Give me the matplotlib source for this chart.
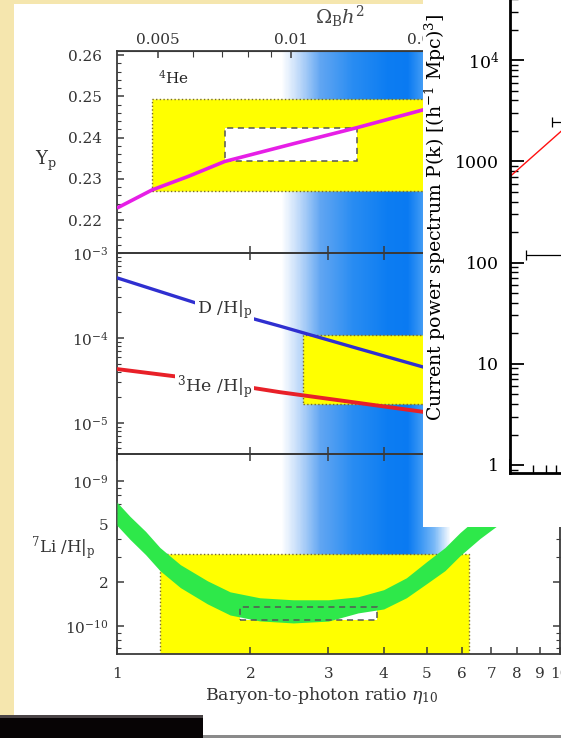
import numpy as np
import matplotlib.pyplot as plt
from matplotlib.patches import Rectangle
from matplotlib.colors import LinearSegmentedColormap
from matplotlib.ticker import FixedLocator, NullFormatter, NullLocator, LogLocator

plt.rcParams['font.family'] = ['DejaVu Serif']
plt.rcParams['mathtext.fontset'] = 'dejavuserif'

W, H = 561, 738

# --- BBN predictions vs baryon-to-photon ratio eta_10 ---
eta_yp = [1.0, 1.2, 1.45, 1.75, 2.5, 3.48, 4.9, 7.0, 10.0]
yp = [0.2229, 0.2273, 0.2306, 0.2342, 0.2385, 0.2424, 0.2467, 0.2505, 0.2540]

eta_dh = [1.0, 1.5, 2.33, 3.5, 4.9, 7.0, 10.0]
dh = [5.1e-4, 2.6e-4, 1.38e-4, 7.5e-5, 4.56e-5, 2.62e-5, 1.5e-5]
he3 = [4.3e-5, 3.3e-5, 2.3e-5, 1.72e-5, 1.35e-5, 1.05e-5, 8.3e-6]

eta_li = [1.0, 1.07, 1.16, 1.25, 1.39, 1.6, 1.8, 2.1, 2.5, 3.0, 3.5, 4.0, 4.5,
          5.0, 5.5, 5.95, 6.6, 7.7, 10.0]
li_hi = [7.15e-10, 5.71e-10, 4.50e-10, 3.48e-10, 2.65e-10, 2.05e-10, 1.72e-10,
         1.565e-10, 1.516e-10, 1.516e-10, 1.59e-10, 1.78e-10, 2.15e-10,
         2.78e-10, 3.48e-10, 4.42e-10, 5.81e-10, 8.25e-10, 1.54e-9]
li_lo = [4.95e-10, 3.96e-10, 3.11e-10, 2.41e-10, 1.84e-10, 1.42e-10, 1.19e-10,
         1.083e-10, 1.049e-10, 1.08e-10, 1.23e-10, 1.31e-10, 1.565e-10,
         1.96e-10, 2.41e-10, 3.06e-10, 4.02e-10, 5.71e-10, 1.066e-9]

# observed abundance boxes: (eta_lo, eta_hi, y_lo, y_hi)
yp_box = (1.2, 6.3, 0.2270, 0.2494)
yp_inner = (1.753, 3.48, 0.2342, 0.2424)
dh_box = (2.63, 6.3, 1.68e-5, 1.08e-4)
li_box = (1.25, 6.23, 6.0e-11, 3.16e-10)
li_inner = (1.896, 3.86, 1.10e-10, 1.355e-10)

band_eta = (2.33, 5.65)

omega_factor = 247.0
omega_ticks = [0.005, 0.01, 0.02]
omega_labels = ['0.005', '0.01', '0.02']
omega_minor = [0.006, 0.007, 0.008, 0.009, 0.03, 0.04]

# --- inset: current power spectrum ---
k_line = [0.001, 0.0047, 0.01]
p_line = [708, 1983, 3260]
k_pts = [0.012, 0.012]
p_pts = [2430, 120]
k_left = [0.00357, 0.00162]
p_ticks = [1, 10, 100, 1000, 1e4]
p_labels = ['1', '10', '100', '1000', r'$10^4$']


def box(x0, y0, x1, y1):
    return [x0 / W, 1 - y1 / H, (x1 - x0) / W, (y1 - y0) / H]


def fpt(x, y):
    return x / W, 1 - y / H


parch = '#f5e6ae'
fig = plt.figure(figsize=(W / 100, H / 100), dpi=100, facecolor=parch)

fig.add_artist(Rectangle((14 / W, 1 - 735 / H), (W - 14) / W, 731 / H,
                         transform=fig.transFigure, fc='white', ec='none', zorder=-10))

# blue band behind the panels
axb = fig.add_axes(box(117, 51, 560, 654), zorder=-5)
axb.set_xscale('log')
axb.set_xlim(1, 10)
axb.set_ylim(0, 1)
axb.axis('off')
stops = [(0.0, (1, 1, 1)), (0.06, (0.78, 0.87, 0.98)), (0.16, (0.38, 0.65, 0.95)),
         (0.32, (0.16, 0.55, 0.95)), (0.52, (0.05, 0.49, 0.95)), (0.66, (0.04, 0.48, 0.95)),
         (0.76, (0.24, 0.60, 0.96)), (0.86, (0.47, 0.72, 0.97)), (1.0, (1, 1, 1))]
cmap = LinearSegmentedColormap.from_list('band', stops)
grad = np.linspace(0, 1, 300)[None, :]
axb.imshow(grad, cmap=cmap, aspect='auto',
           extent=[band_eta[0], band_eta[1], 0, 1], interpolation='bilinear')

tick_col = '#333333'
spine_col = '#3a3a3a'

ax1 = fig.add_axes(box(117, 51, 560, 253))
ax2 = fig.add_axes(box(117, 253, 560, 454))
ax3 = fig.add_axes(box(117, 454, 560, 654))

for ax in (ax1, ax2, ax3):
    ax.set_facecolor('none')
    ax.set_xscale('log')
    ax.set_xlim(1, 10)
    for s in ax.spines.values():
        s.set_color(spine_col)
        s.set_linewidth(1.3)
    ax.xaxis.set_major_locator(FixedLocator(list(range(1, 11))))
    ax.xaxis.set_minor_locator(NullLocator())
    ax.tick_params(which='both', direction='in', colors=spine_col, labelcolor=tick_col,
                   labelsize=11, right=True, top=True)
    ax.tick_params(which='major', length=5, width=1.1)
    ax.tick_params(which='minor', length=3, width=0.8)
    ax.tick_params(axis='x', labelbottom=False)
    ax.tick_params(axis='y', pad=6)

# --- panel 1: helium-4 ---
ax1.set_ylim(0.212, 0.261)
ax1.set_yticks([0.22, 0.23, 0.24, 0.25, 0.26])
ax1.set_yticklabels(['0.22', '0.23', '0.24', '0.25', '0.26'])
ax1.yaxis.set_minor_locator(FixedLocator(np.arange(0.212, 0.261, 0.002)))
ax1.tick_params(axis='x', top=False)
ax1.tick_params(axis='y', pad=11)
ax1.add_patch(Rectangle((yp_box[0], yp_box[2]), yp_box[1] - yp_box[0], yp_box[3] - yp_box[2],
                        fc='#ffff00', ec='#7a6a2a', ls=':', lw=1.0, zorder=1))
ax1.add_patch(Rectangle((yp_inner[0], yp_inner[2]), yp_inner[1] - yp_inner[0],
                        yp_inner[3] - yp_inner[2], fc='white', ec='#555555',
                        ls=(0, (4, 3)), lw=1.1, zorder=2))
ax1.plot(eta_yp, yp, color='#e61ee6', lw=2.6, zorder=3, solid_capstyle='butt')
ax1.text(1.34, 0.2545, r'$^4$He', fontsize=11, color='#222222', ha='center', va='center')

sec = ax1.secondary_xaxis('top', functions=(lambda e: e / omega_factor,
                                            lambda o: o * omega_factor))
sec.set_xticks(omega_ticks, labels=omega_labels)
sec.set_xticks(omega_minor, minor=True)
sec.xaxis.set_minor_formatter(NullFormatter())
sec.tick_params(which='both', direction='in', colors=spine_col, labelcolor=tick_col,
                labelsize=11, pad=3)
sec.tick_params(which='major', length=5, width=1.1)
sec.tick_params(which='minor', length=4, width=0.8)
sec.spines['top'].set_color(spine_col)

# --- panel 2: D and He-3 ---
ax2.set_yscale('log')
ax2.set_ylim(4.3e-6, 1e-3)
ax2.yaxis.set_major_locator(FixedLocator([1e-5, 1e-4, 1e-3]))
ax2.set_yticklabels([r'$10^{-5}$', r'$10^{-4}$', r'$10^{-3}$'])
ax2.yaxis.set_minor_locator(LogLocator(subs=np.arange(2, 10)))
ax2.yaxis.set_minor_formatter(NullFormatter())
ax2.add_patch(Rectangle((dh_box[0], dh_box[2]), dh_box[1] - dh_box[0], dh_box[3] - dh_box[2],
                        fc='#ffff00', ec='#7a6a2a', ls=':', lw=1.0, zorder=1))
ax2.plot(eta_dh, dh, color='#2f2fd0', lw=2.4, zorder=3)
ax2.plot(eta_dh, he3, color='#e82028', lw=2.8, zorder=3)
ax2.text(1.75, 2.15e-4, r'D /H$|_{\rm p}$', fontsize=12.5, color='#333333', ha='center',
         va='center', zorder=4, bbox=dict(fc='white', ec='none', pad=1.0))
ax2.text(1.66, 2.65e-5, r'$^3$He /H$|_{\rm p}$', fontsize=12.5, color='#333333', ha='center',
         va='center', zorder=4, bbox=dict(fc='white', ec='none', pad=1.0))

# --- panel 3: lithium-7 ---
ax3.set_yscale('log')
ax3.set_ylim(6.4e-11, 1.54e-9)
ax3.yaxis.set_major_locator(FixedLocator([1e-10, 2e-10, 5e-10, 1e-9]))
ax3.set_yticklabels([r'$10^{-10}$', '2', '5', r'$10^{-9}$'])
ax3.yaxis.set_minor_locator(FixedLocator([7e-11, 8e-11, 9e-11, 3e-10, 4e-10, 6e-10,
                                          7e-10, 8e-10, 9e-10]))
ax3.yaxis.set_minor_formatter(NullFormatter())
ax3.tick_params(axis='x', labelbottom=True, pad=9)
ax3.set_xticklabels([str(i) for i in range(1, 11)])
ax3.add_patch(Rectangle((li_box[0], li_box[2]), li_box[1] - li_box[0], li_box[3] - li_box[2],
                        fc='#ffff00', ec='#7a6a2a', ls=':', lw=1.0, zorder=1))
ax3.add_patch(Rectangle((li_inner[0], li_inner[2]), li_inner[1] - li_inner[0],
                        li_inner[3] - li_inner[2], fc='white', ec='none', zorder=2))
ax3.fill_between(eta_li, li_lo, li_hi, color='#2ee84a', lw=0, zorder=3)
ax3.add_patch(Rectangle((li_inner[0], li_inner[2]), li_inner[1] - li_inner[0],
                        li_inner[3] - li_inner[2], fill=False, ec='#555555',
                        ls=(0, (4, 3)), lw=1.1, zorder=4))

# panel labels
fig.text(*fpt(46, 161), r'Y$_{\rm p}$', fontsize=13, color='#333333', ha='center', va='center')
fig.text(*fpt(63, 548), r'$^7$Li /H$|_{\rm p}$', fontsize=12, color='#333333',
         ha='center', va='center')
fig.text(*fpt(340, 17), r'$\Omega_{\rm B}h^2$', fontsize=14, color='#444444',
         ha='center', va='center')
fig.text(*fpt(322, 695), r'Baryon-to-photon ratio $\eta_{10}$', fontsize=12.5,
         color='#333333', ha='center', va='center')

# --- overlay: white box with power-spectrum axis ---
fig.add_artist(Rectangle((423 / W, 1 - 527 / H), (W - 423) / W, 527 / H,
                         transform=fig.transFigure, fc='white', ec='none', zorder=5))

axp = fig.add_axes(box(510, -41, 738, 473), zorder=6)
axp.set_facecolor('none')
axp.set_xscale('log')
axp.set_yscale('log')
axp.set_xlim(1e-3, 1)
axp.set_ylim(0.833, 1e5)
for side in ('top', 'right'):
    axp.spines[side].set_visible(False)
for side in ('left', 'bottom'):
    axp.spines[side].set_linewidth(2.0)
axp.yaxis.set_major_locator(FixedLocator(p_ticks))
axp.set_yticklabels(p_labels)
axp.yaxis.set_minor_locator(LogLocator(subs=np.arange(2, 10)))
axp.yaxis.set_minor_formatter(NullFormatter())
axp.xaxis.set_minor_locator(LogLocator(subs=np.arange(2, 10)))
axp.xaxis.set_minor_formatter(NullFormatter())
axp.tick_params(which='both', direction='in', labelsize=12.5, right=False, top=False,
                labelbottom=False)
axp.tick_params(which='major', length=10, width=1.3, pad=8)
axp.tick_params(which='minor', length=6, width=1.0)
axp.plot(k_line, p_line, color='#ff1010', lw=1.0)
xerr = [np.array(k_pts) - np.array(k_left), [0.0, 0.0]]
axp.errorbar(k_pts, p_pts, xerr=xerr, fmt='none', ecolor='black', elinewidth=0.9,
             capsize=3.5, capthick=0.9)
fig.text(*fpt(435, 217), r'Current power spectrum P(k) [(h$^{-1}$ Mpc)$^3$]',
         rotation=90, fontsize=13.6, ha='center', va='center', zorder=8)

# bottom strip
fig.add_artist(Rectangle((0, 0), 203 / W, 23 / H, transform=fig.transFigure,
                         fc='#070405', ec='none', zorder=9))
fig.add_artist(Rectangle((0, 20 / H), 203 / W, 3 / H, transform=fig.transFigure,
                         fc='#4a4446', ec='none', zorder=9))
fig.add_artist(Rectangle((203 / W, 0), (W - 203) / W, 3 / H, transform=fig.transFigure,
                         fc='#8a8a8a', ec='none', zorder=9))

fig.savefig('out.png', dpi=100, facecolor=parch)
